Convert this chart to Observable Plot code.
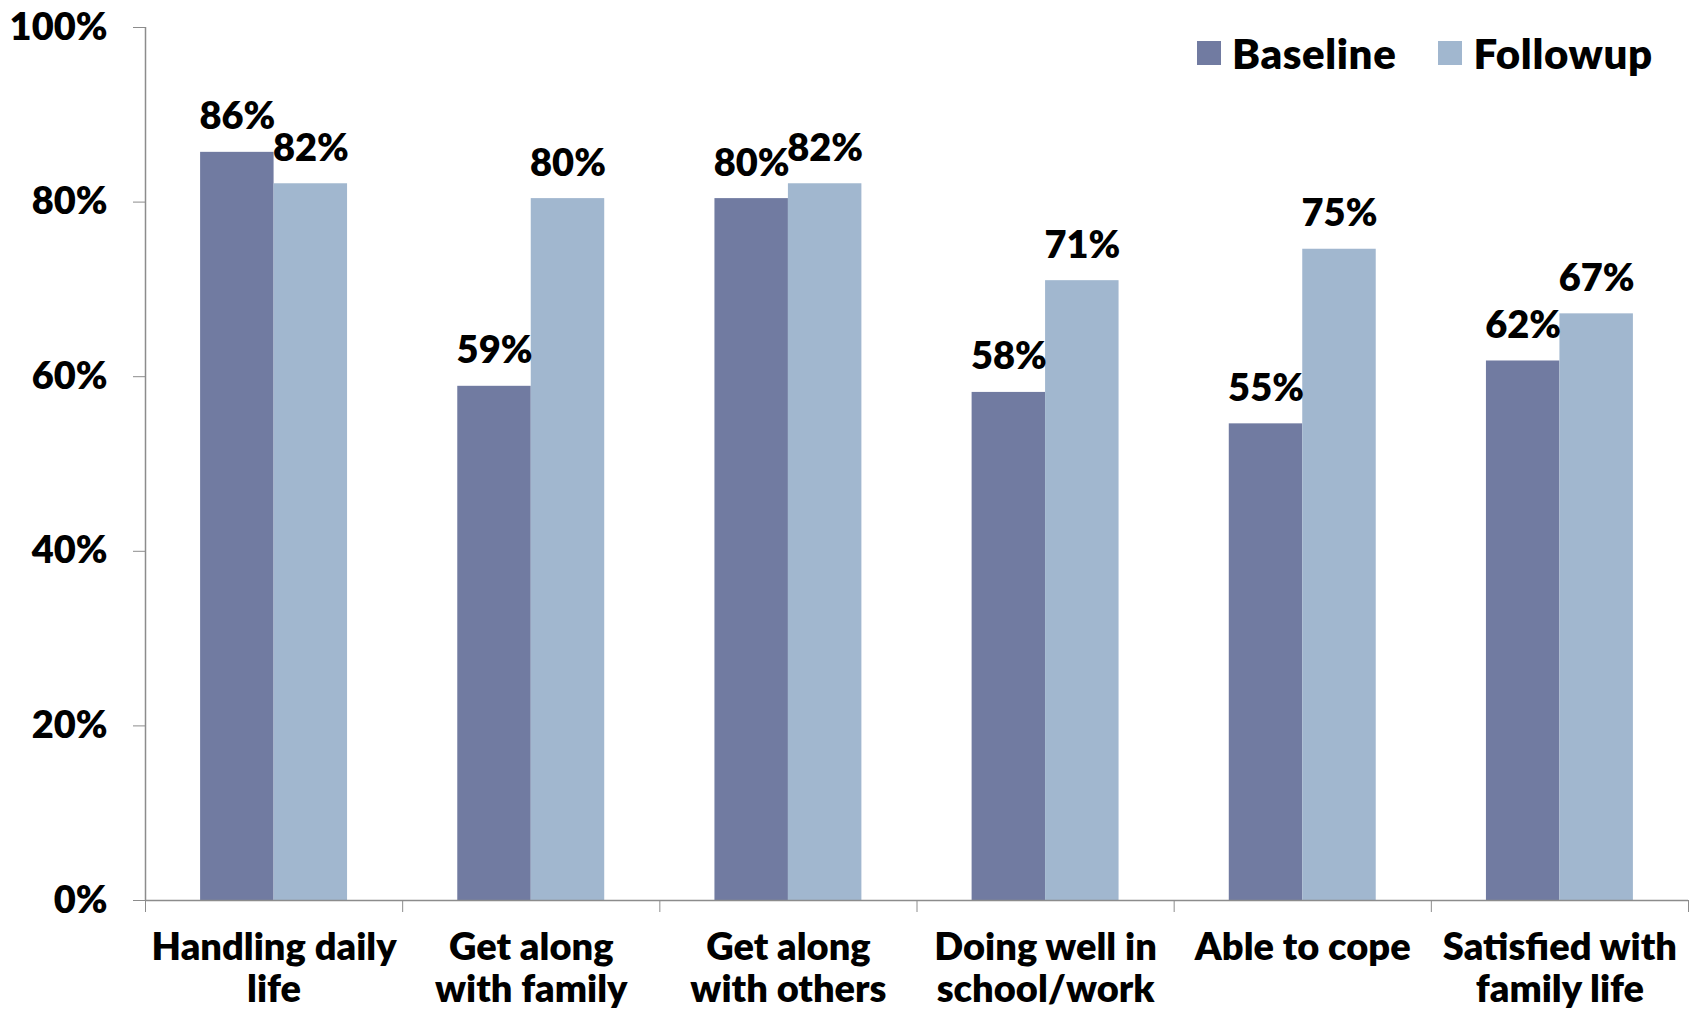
<!DOCTYPE html>
<html><head><meta charset="utf-8">
<script src="https://cdn.jsdelivr.net/npm/d3@7"></script>
<script src="https://cdn.jsdelivr.net/npm/@observablehq/plot@0.6"></script>
<style>
body{margin:0;background:#fff;font-family:Lato, sans-serif;}
#wrap{position:relative;width:1698px;height:1010px;}
#legend{position:absolute;z-index:2;top:28px;left:1197px;display:flex;align-items:center;font-family:Lato, sans-serif;font-weight:800;font-size:42px;letter-spacing:0.6px;color:#000;}
.sw{width:24px;height:24px;display:inline-block;margin-right:11px}
.item{display:flex;align-items:center;margin-right:42px}
</style></head><body><div id="wrap"><div id="legend"></div></div>
<script>
const categories = ["Handling daily\nlife","Get along\nwith family","Get along\nwith others","Doing well in\nschool/work","Able to cope","Satisfied with\nfamily life"];
const seriesNames = ["Baseline","Followup"];
const seriesColors = ["#717ba1","#a1b7cf"];
const baseline = [85.7,58.9,80.4,58.2,54.6,61.8];
const followup = [82.1,80.4,82.1,71.0,74.6,67.2];
const yTicks = [0,20,40,60,80,100];

const gapWidth = 1.5; // Excel-style gap width relative to one bar
const barW = 1/(seriesNames.length + gapWidth);
const data = categories.flatMap((c,i)=>[baseline[i],followup[i]].map((v,j)=>({i, category:c, series:seriesNames[j], j, value:v})));
const x1 = d => d.i + 0.5 + (d.j - seriesNames.length/2)*barW;
const x2 = d => x1(d) + barW;
const xm = d => x1(d) + barW/2;
const FS = 38;
const FW = 800;

const chart = Plot.plot({
  width:1698, height:1010, marginLeft:145, marginRight:10, marginTop:27, marginBottom:110,
  style:{fontFamily:"Lato, sans-serif", fontWeight:FW, background:"white", color:"black"},
  x:{domain:[0,categories.length]},
  y:{domain:[0,100]},
  color:{domain:seriesNames, range:seriesColors},
  marks:[
    Plot.rectY(data,{x1, x2, y1:0, y2:"value", fill:"series"}),
    Plot.ruleX([0],{stroke:"#8c8c8c", strokeWidth:1.5}),
    Plot.ruleY([0],{stroke:"#8c8c8c", strokeWidth:1.5}),
    Plot.axisY({ticks:yTicks, tickFormat:d=>d+"%", tickSize:12, tickPadding:26, fontSize:FS, fontWeight:FW, stroke:"#8c8c8c", fill:"black", label:null}),
    Plot.axisX({ticks:d3.range(categories.length+1), tickFormat:()=>"", tickSize:12, stroke:"#8c8c8c", label:null}),
    Plot.axisX({ticks:categories.map((c,i)=>i+0.5), tickFormat:t=>categories[Math.floor(t)], tickSize:0, tickPadding:30, fontSize:FS, fontWeight:FW, lineHeight:1.1, fill:"black", label:null}),
    Plot.text(data,{x:xm, y:"value", text:d=>Math.round(d.value)+"%", dy:-23, lineAnchor:"bottom", fontSize:FS, fontWeight:FW, fill:"black"})
  ]
});
const wrap = document.getElementById("wrap");
wrap.insertBefore(chart, wrap.firstChild);
const legend = document.getElementById("legend");
seriesNames.forEach((s,k)=>{
  const it = document.createElement("div"); it.className="item";
  const sw = document.createElement("span"); sw.className="sw"; sw.style.background=seriesColors[k];
  const t = document.createElement("span"); t.textContent=s;
  it.appendChild(sw); it.appendChild(t); legend.appendChild(it);
});
</script></body></html>
